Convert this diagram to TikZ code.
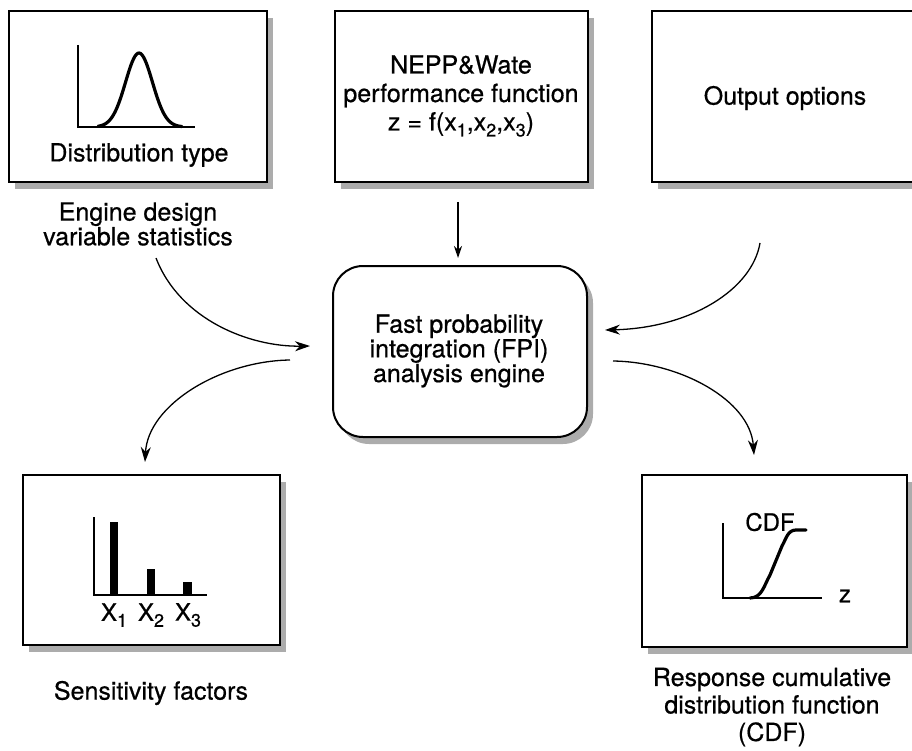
\documentclass[tikz,border=0pt]{standalone}
\usepackage{fontspec}
\setmainfont{TeX Gyre Heros}[FakeBold=0.6]
\usetikzlibrary{shadows,arrows.meta}
\newcommand{\lowsub}[1]{\raisebox{-6pt}{\fontsize{18}{18}\selectfont #1}}
\tikzset{
  panel/.style={draw=black, line width=2pt, fill=white, inner sep=0pt,
    general shadow={fill=gray!65, shadow xshift=6pt, shadow yshift=-7pt}},
  lbl/.style={align=center, inner sep=0pt, font=\fontsize{25}{28}\selectfont},
  flow/.style={line width=1.3pt, -{Stealth[length=15pt,width=10pt]}},
  axis/.style={line width=2.5pt},
  curve/.style={line width=3.2pt, line cap=round, line join=round}
}
\begin{document}
\begin{tikzpicture}[x=1pt,y=-1pt]
\useasboundingbox (0,0) rectangle (912,751);
% boxes
\node[panel, minimum width=258pt, minimum height=171pt] (dist) at (138,96.5) {};
\node[panel, minimum width=253pt, minimum height=171pt] (perf) at (461.5,96.5) {};
\node[panel, minimum width=266pt, minimum height=171pt] (outp) at (785,96.5) {};
\node[panel, rounded corners=30pt, minimum width=254pt, minimum height=171pt] (fpi) at (460,351.5) {};
\node[panel, minimum width=257pt, minimum height=170pt] (sens) at (151.5,560) {};
\node[panel, minimum width=265pt, minimum height=172pt] (cdf) at (774.5,561) {};

% box texts
\node[lbl] (disttxt) at (139,155) {Distribution type};
\node[lbl, font=\fontsize{25}{28.5}\selectfont] (perftxt) at (461,96) {NEPP\&Wate\\performance function\\z = f(x\lowsub{1},x\lowsub{2},x\lowsub{3})};
\node[lbl] (outtxt) at (785,98) {Output options};
\node[lbl, font=\fontsize{25}{22.5}\selectfont] (fpitxt) at (459,351) {Fast probability\\integration (FPI)\\analysis engine};

% captions
\node[lbl, font=\fontsize{25}{23}\selectfont] (engcap) at (138,224) {Engine design\\variable statistics};
\node[lbl] (senscap) at (151,693) {Sensitivity factors};
\node[lbl, font=\fontsize{25}{27.5}\selectfont] (cdfcap) at (772,707) {Response cumulative\\distribution function\\(CDF)};

% distribution plot
\draw[axis] (78,45) -- (78,127) -- (195,127);
\draw[curve] plot[domain=98:182, samples=60, smooth] (\x, {127-74*exp(-((\x-139)/19)^2)});

% bar chart
\draw[axis] (94,517) -- (94,595) -- (207,595);
\fill (110,522) rectangle (118,595);
\fill (147,569) rectangle (155,595);
\fill (183,582) rectangle (192,595);
\node[lbl, font=\fontsize{24}{24}\selectfont] (x1) at (114,615) {X\lowsub{1}};
\node[lbl, font=\fontsize{24}{24}\selectfont] (x2) at (151,615) {X\lowsub{2}};
\node[lbl, font=\fontsize{24}{24}\selectfont] (x3) at (188,615) {X\lowsub{3}};

% CDF plot
\draw[axis] (723,523) -- (723,598) -- (822,598);
\draw[curve] (750,598) to[out=0,in=-120] (770,575) -- (782,546) to[out=60,in=180] (796,530) -- (806,530);
\node[lbl, font=\fontsize{24}{24}\selectfont] (cdflab) at (770,522) {CDF};
\node[lbl, font=\fontsize{24}{24}\selectfont] (zlab) at (845,596) {z};

% connector ends
\coordinate (aS) at (156,258);
\coordinate (aE) at (310,346);
\coordinate (bS) at (760,243);
\coordinate (bE) at (605,330);
\coordinate (cS) at (290,360);
\coordinate (cE) at (145,462);
\coordinate (dS) at (613,361);
\coordinate (dE) at (754,455);
\coordinate (tS) at (458,202);
\coordinate (tE) at (458,258);

% connectors
\draw[line width=1.3pt, -{Stealth[length=12pt,width=8pt]}] (tS) -- (tE);
\draw[flow] (aS) .. controls (180,320) and (250,347) .. (aE);
\draw[flow] (bS) .. controls (752,290) and (690,328) .. (bE);
\draw[flow] (cS) .. controls (220,361) and (148,405) .. (cE);
\draw[flow] (dS) .. controls (680,362) and (750,400) .. (dE);
\end{tikzpicture}
\end{document}
